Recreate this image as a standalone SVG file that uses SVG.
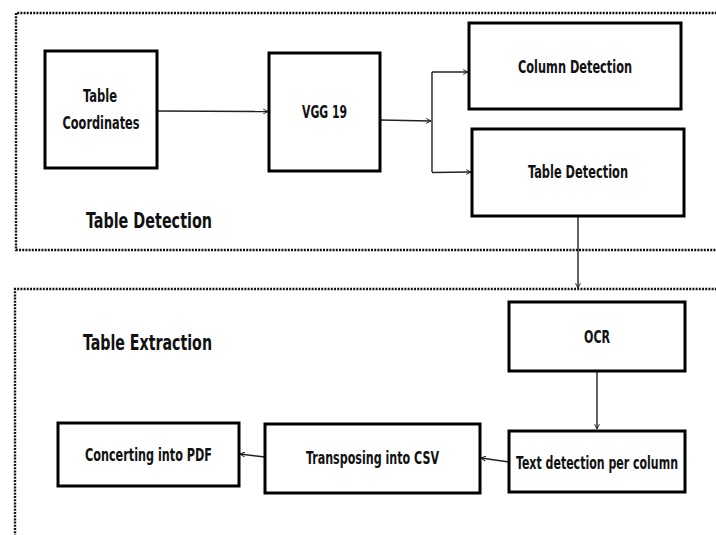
<svg xmlns="http://www.w3.org/2000/svg" width="716" height="535" viewBox="0 0 716 535">
  <defs>
    <style>
      .box { fill: #ffffff; stroke: #000000; stroke-width: 3; }
      .frame { fill: none; stroke: #111111; stroke-width: 2.4; stroke-dasharray: 2 1.2; }
      .link { fill: none; stroke: #222222; stroke-width: 1.4; }
      .lbl { font-family: "DejaVu Sans Condensed", "Liberation Sans Narrow", "Liberation Sans", sans-serif; font-stretch: condensed; font-weight: bold; fill: #111111; text-anchor: middle; font-size: 18px; }
      .title { font-family: "DejaVu Sans Condensed", "Liberation Sans Narrow", "Liberation Sans", sans-serif; font-stretch: condensed; font-weight: bold; fill: #111111; font-size: 22px; }
    </style>
    <marker id="arrow" viewBox="0 0 10 10" refX="9" refY="5" markerWidth="6" markerHeight="6" orient="auto" markerUnits="userSpaceOnUse">
      <path d="M1,1 L9,5 L1,9" fill="none" stroke="#222222" stroke-width="1.6"/>
    </marker>
  </defs>
  <rect width="716" height="535" fill="#ffffff"/>

  <!-- section frames -->
  <g id="frame-detection">
    <path class="frame" d="M720,13 H16 V250 H720"/>
    <text class="title" x="86" y="228" textLength="126" lengthAdjust="spacingAndGlyphs">Table Detection</text>
  </g>
  <g id="frame-extraction">
    <path class="frame" d="M720,289 H15 V540"/>
    <text class="title" x="83" y="350" textLength="129" lengthAdjust="spacingAndGlyphs">Table Extraction</text>
  </g>

  <!-- connectors -->
  <g id="connectors">
    <line class="link" x1="157" y1="111" x2="268" y2="111.5" marker-end="url(#arrow)"/>
    <line class="link" x1="380" y1="120" x2="431" y2="121" marker-end="url(#arrow)"/>
    <line class="link" x1="432" y1="72" x2="432" y2="172"/>
    <line class="link" x1="432" y1="72" x2="468" y2="72" marker-end="url(#arrow)"/>
    <line class="link" x1="432" y1="172.5" x2="471" y2="172" marker-end="url(#arrow)"/>
    <line class="link" x1="578" y1="216" x2="578" y2="288" marker-end="url(#arrow)"/>
    <line class="link" x1="597" y1="371" x2="597" y2="429" marker-end="url(#arrow)"/>
    <line class="link" x1="509" y1="462" x2="481" y2="458" marker-end="url(#arrow)"/>
    <line class="link" x1="265" y1="457" x2="240" y2="454" marker-end="url(#arrow)"/>
  </g>

  <!-- nodes -->
  <g id="table-coordinates">
    <rect class="box" x="45" y="51" width="112" height="117"/>
    <text class="lbl" x="100" y="102" textLength="34" lengthAdjust="spacingAndGlyphs">Table</text>
    <text class="lbl" x="101" y="129" textLength="77" lengthAdjust="spacingAndGlyphs">Coordinates</text>
  </g>
  <g id="vgg19">
    <rect class="box" x="269" y="53" width="111" height="118"/>
    <text class="lbl" x="324.5" y="118" textLength="45" lengthAdjust="spacingAndGlyphs">VGG 19</text>
  </g>
  <g id="column-detection">
    <rect class="box" x="469" y="23" width="212" height="86"/>
    <text class="lbl" x="575" y="73" textLength="114" lengthAdjust="spacingAndGlyphs">Column Detection</text>
  </g>
  <g id="table-detection">
    <rect class="box" x="472" y="129" width="212" height="87"/>
    <text class="lbl" x="578" y="178" textLength="100" lengthAdjust="spacingAndGlyphs">Table Detection</text>
  </g>
  <g id="ocr">
    <rect class="box" x="509" y="302" width="176" height="69"/>
    <text class="lbl" x="597" y="343" textLength="26" lengthAdjust="spacingAndGlyphs">OCR</text>
  </g>
  <g id="text-detection">
    <rect class="box" x="509" y="431" width="176" height="61"/>
    <text class="lbl" x="597" y="469" textLength="162" lengthAdjust="spacingAndGlyphs">Text detection per column</text>
  </g>
  <g id="transposing">
    <rect class="box" x="265" y="424" width="215" height="69"/>
    <text class="lbl" x="372.5" y="464" textLength="133" lengthAdjust="spacingAndGlyphs">Transposing into CSV</text>
  </g>
  <g id="converting">
    <rect class="box" x="58" y="423" width="181" height="63"/>
    <text class="lbl" x="148.5" y="461" textLength="127" lengthAdjust="spacingAndGlyphs">Concerting into PDF</text>
  </g>
</svg>
